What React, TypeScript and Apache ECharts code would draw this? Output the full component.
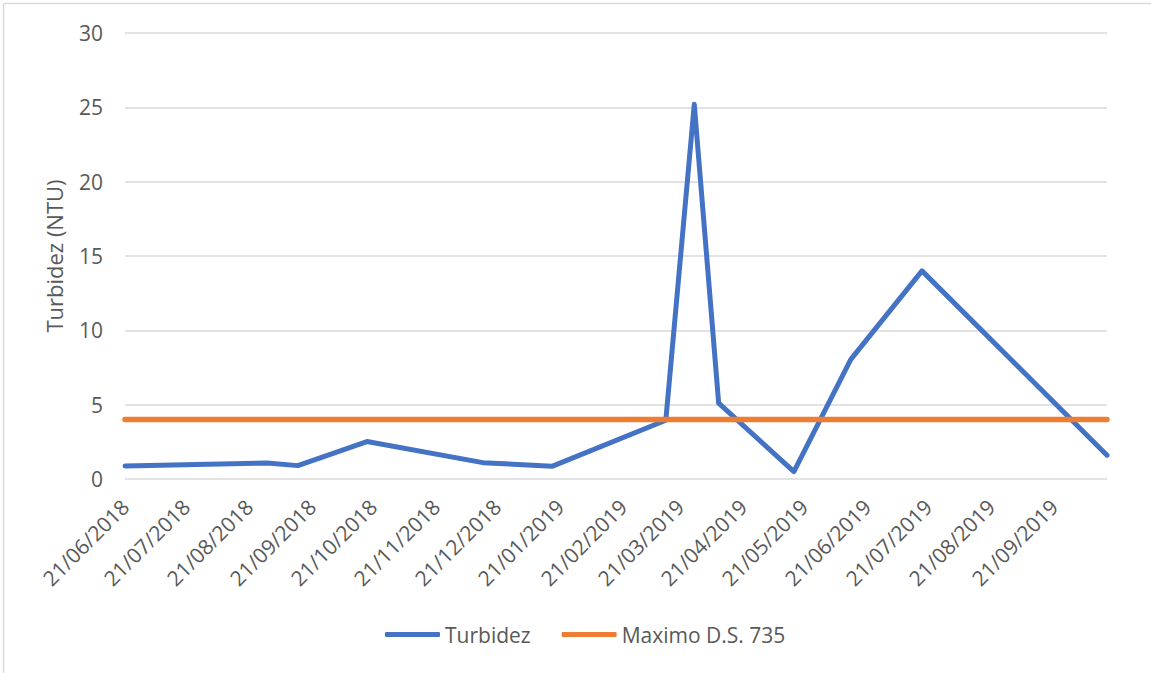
import React, { useEffect, useRef } from "react";
import * as echarts from "echarts";

const turbDates = [
  "2018-06-21", "2018-08-30", "2018-09-14", "2018-10-18", "2018-12-14",
  "2019-01-17", "2019-03-14", "2019-03-28", "2019-04-09", "2019-05-16",
  "2019-06-13", "2019-07-18", "2019-10-17",
];
const turbValues = [0.87, 1.08, 0.9, 2.52, 1.1, 0.85, 3.95, 25.2, 5.1, 0.5, 8.05, 14.0, 1.6];
const maxValue = 4;
const tickDates = [
  "2018-06-21", "2018-07-21", "2018-08-21", "2018-09-21", "2018-10-21", "2018-11-21",
  "2018-12-21", "2019-01-21", "2019-02-21", "2019-03-21", "2019-04-21", "2019-05-21",
  "2019-06-21", "2019-07-21", "2019-08-21", "2019-09-21",
];
const seriesNames = ["Turbidez", "Maximo D.S. 735"];
const yTitle = "Turbidez (NTU)";

const DAY = 86400000;
const toUTC = (s: string) => {
  const [y, m, d] = s.split("-").map(Number);
  return Date.UTC(y, m - 1, d);
};
const origin = toUTC(turbDates[0]);
const toDay = (s: string) => Math.round((toUTC(s) - origin) / DAY);
const pad = (n: number) => (n < 10 ? "0" + n : "" + n);
const fmtDay = (day: number) => {
  const d = new Date(origin + Math.round(day) * DAY);
  return pad(d.getUTCDate()) + "/" + pad(d.getUTCMonth() + 1) + "/" + d.getUTCFullYear();
};

export default function App() {
  const ref = useRef<HTMLDivElement>(null);
  useEffect(() => {
    document.body.style.margin = "0";
    const chart = echarts.init(ref.current!, null, { renderer: "svg" });
    const font = "'Open Sans', sans-serif";
    const maxDay = toDay(turbDates[turbDates.length - 1]);
    chart.setOption({
      animation: false,
      backgroundColor: "#ffffff",
      textStyle: { fontFamily: font },
      graphic: [
        { type: "line", shape: { x1: 3.5, y1: 3.5, x2: 1151, y2: 3.5 }, style: { stroke: "#d9d9d9", lineWidth: 1.5 } },
        { type: "line", shape: { x1: 3.5, y1: 3.5, x2: 3.5, y2: 673 }, style: { stroke: "#d9d9d9", lineWidth: 1.5 } },
      ],
      grid: { left: 125, right: 44, top: 33, bottom: 194, containLabel: false, outerBoundsMode: "none" },
      legend: {
        data: seriesNames,
        bottom: 23,
        left: 380,
        icon: "roundRect",
        itemWidth: 55,
        itemHeight: 5,
        itemGap: 31,
        textStyle: { color: "#595959", fontSize: 21, fontFamily: font },
      },
      xAxis: {
        type: "value",
        min: 0,
        max: maxDay,
        axisLine: { show: false },
        axisTick: { show: false },
        splitLine: { show: false },
        axisLabel: {
          customValues: tickDates.map(toDay),
          formatter: (v: number) => fmtDay(v),
          rotate: 45,
          margin: 24,
          color: "#595959",
          fontSize: 21,
          fontFamily: font,
          hideOverlap: false,
          showMinLabel: true,
          showMaxLabel: true,
        },
      },
      yAxis: {
        type: "value",
        min: 0,
        max: 30,
        interval: 5,
        name: yTitle,
        nameLocation: "middle",
        nameGap: 60,
        nameTextStyle: { color: "#595959", fontSize: 22, fontFamily: font },
        axisLine: { show: false },
        axisTick: { show: false },
        axisLabel: { color: "#595959", fontSize: 21, margin: 22, fontFamily: font },
        splitLine: { lineStyle: { color: "#d9d9d9", width: 1.5 } },
      },
      series: [
        {
          name: seriesNames[0],
          type: "line",
          showSymbol: false,
          symbol: "none",
          color: "#4472C4",
          lineStyle: { width: 5, color: "#4472C4", cap: "round", join: "round" },
          data: turbDates.map((d, i) => [toDay(d), turbValues[i]]),
          z: 2,
        },
        {
          name: seriesNames[1],
          type: "line",
          showSymbol: false,
          symbol: "none",
          color: "#ED7D31",
          lineStyle: { width: 5.5, color: "#ED7D31", cap: "round", join: "round" },
          data: turbDates.map((d) => [toDay(d), maxValue]),
          z: 3,
        },
      ],
    });
    return () => chart.dispose();
  }, []);
  return <div ref={ref} style={{ width: 1151, height: 673 }} />;
}
